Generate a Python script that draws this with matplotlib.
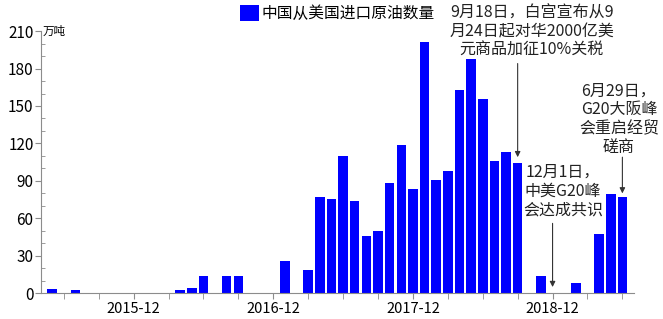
import numpy as np
import pandas as pd
from matplotlib import pyplot as plt
from matplotlib.ticker import MultipleLocator

plt.rcParams['font.family'] = ['Noto Sans CJK SC', 'DejaVu Sans']

# monthly imports, 2015-04 .. 2019-07 (万吨)
months = pd.period_range("2015-04", "2019-07", freq="M").strftime("%Y-%m").tolist()
volume = [0, 3.2, 0, 2.8, 0, 0, 0, 0, 0, 0.3, 0.3, 0,
          3.0, 4.5, 13.9, 0, 13.9, 13.9, 0, 0, 0,
          26.1, 0, 18.4, 76.9, 75.8, 110, 74.2, 45.9, 49.7, 88.1, 119.1, 83.6,
          201.4, 91, 97.8, 162.7, 187.5, 155.4, 106, 113.2, 104.7, 0, 13.9, 0,
          0, 8.3, 0, 47.8, 79.3, 77.2, 0]
tick_labels = ["2015-12", "2016-12", "2017-12", "2018-12"]
series_name = "中国从美国进口原油数量"
unit = "万吨"

notes = [
    ("9月18日，白宫宣布从9\n月24日起对华2000亿美\n元商品加征10%关税", "2018-09"),
    ("12月1日，\n中美G20峰\n会达成共识", "2018-12"),
    ("6月29日，\nG20大阪峰\n会重启经贸\n磋商", "2019-06"),
]

x = np.arange(len(months))
gray = "#8c8c8c"

fig = plt.figure(figsize=(6.63, 3.19), dpi=100)
ax = fig.add_axes([0.0611, 0.0806, 0.8952, 0.822])
ax.bar(x, volume, width=0.82, color="#0000ff", label=series_name, zorder=2)

ax.set_xlim(0, len(months) - 1)
ax.set_ylim(0, 210)
ax.yaxis.set_major_locator(MultipleLocator(30))
ax.yaxis.set_minor_locator(MultipleLocator(10))
ax.tick_params(axis="y", which="major", direction="out", length=4, color=gray,
               labelsize=11, pad=1)
ax.tick_params(axis="y", which="minor", direction="in", length=3, color=gray)

ax.set_xticks(x[2::3], minor=True)
ax.set_xticks([months.index(t) for t in tick_labels])
ax.set_xticklabels(tick_labels)
ax.tick_params(axis="x", which="both", direction="out", length=4, color=gray,
               labelsize=10.5, pad=2)

for s in ["top", "right"]:
    ax.spines[s].set_visible(False)
for s in ["left", "bottom"]:
    ax.spines[s].set_color(gray)

ax.annotate(unit, xy=(0, 210), xytext=(1.5, 0), textcoords="offset points",
            fontsize=8.3, va="center", ha="left", annotation_clip=False)

# annotations: text position (index, value), arrow start value, arrow tip value
text_pos = [(42.2, 231.5), (44.9, 104), (49.7, 169)]
arrow_span = [(184, 109), (56, 5), (109, 80)]
for (txt, m), (tx, ty), (y0, y1) in zip(notes, text_pos, arrow_span):
    i = months.index(m)
    ax.text(tx, ty, txt, ha="center", va="top", fontsize=11.5, linespacing=1.15,
            color="#222222", clip_on=False)
    ax.annotate("", xy=(i, y1), xytext=(i, y0), annotation_clip=False,
                arrowprops=dict(arrowstyle="-|>", color="#333333", lw=0.8,
                                mutation_scale=8, shrinkA=0, shrinkB=0))

fig.legend(loc="upper left", bbox_to_anchor=(240 / 663, 1 - 5 / 319), frameon=False,
           fontsize=11.3, handlelength=1.2, handleheight=1.2, handletextpad=0.15,
           borderpad=0, borderaxespad=0)

plt.savefig("out.png")
plt.close()
